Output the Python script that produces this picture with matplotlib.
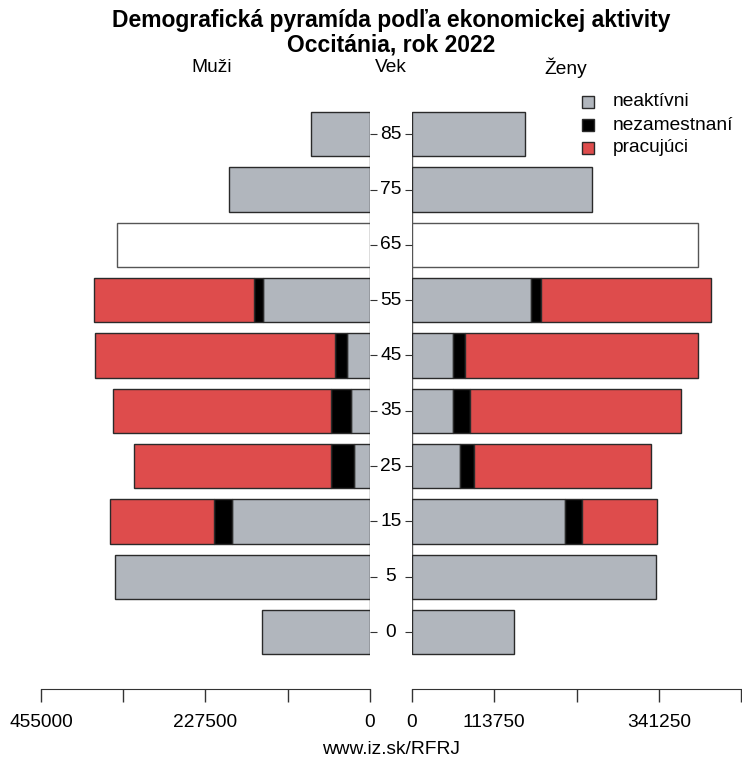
import numpy as np
import matplotlib
matplotlib.use("Agg")
import matplotlib.pyplot as plt
import matplotlib.transforms as mtransforms
from matplotlib.patches import Rectangle

plt.rcParams["font.family"] = ["Liberation Sans", "DejaVu Sans"]

# age groups (bottom to top)
ages = ["0", "5", "15", "25", "35", "45", "55", "65", "75", "85"]

# men
men_neaktivni = [149000, 352200, 190400, 22600, 25800, 32300, 148000, 0, 195000, 81600]
men_nezamestnani = [0, 0, 25300, 31400, 28500, 16100, 12900, 0, 0, 0]
men_pracujuci = [0, 0, 143800, 272000, 301000, 332000, 221000, 0, 0, 0]
men_65 = [0, 0, 0, 0, 0, 0, 0, 350000, 0, 0]

# women
women_neaktivni = [140700, 337000, 211600, 66900, 57200, 57200, 165100, 0, 249000, 156800]
women_nezamestnani = [0, 0, 24100, 19400, 22500, 16600, 12900, 0, 0, 0]
women_pracujuci = [0, 0, 103200, 244300, 291800, 321700, 235100, 0, 0, 0]
women_65 = [0, 0, 0, 0, 0, 0, 0, 395600, 0, 0]

xticks = [0, 113750, 227500, 341250, 455000]
xmax = 455000

series_names = ["neaktívni", "nezamestnaní", "pracujúci"]
colors = ["#B1B6BD", "#000000", "#DE4C4C"]
edge = "#2a2a2a"

W, H = 742, 764
fig = plt.figure(figsize=(W / 100, H / 100), dpi=100)

ax_m = fig.add_axes([41 / W, (H - 689) / H, 329 / W, 599 / H])
ax_f = fig.add_axes([412 / W, (H - 689) / H, 329 / W, 599 / H])

y = np.arange(len(ages))
bh = 0.8


def draw(ax, parts, extra):
    left = np.zeros(len(ages))
    for vals, c in zip(parts, colors):
        vals = np.array(vals, dtype=float)
        m = vals > 0
        ax.barh(y[m], vals[m], left=left[m], height=bh, color=c,
                edgecolor=edge, linewidth=1)
        left += vals
    extra = np.array(extra, dtype=float)
    m = extra > 0
    ax.barh(y[m], extra[m], height=bh, color="white", edgecolor="#555555", linewidth=1)
    ax.vlines(0, -0.4, len(ages) - 0.6, color="#555555", linewidth=1, zorder=0)
    ax.set_ylim(-1.03, 9.80)
    ax.set_yticks(y)
    for s in ["top", "left", "right"]:
        ax.spines[s].set_visible(False)
    ax.spines["bottom"].set_color("#333333")
    ax.set_xticks(xticks)
    ax.tick_params(axis="x", length=9, width=1, color="#333333", pad=9, labelsize=13.8)


draw(ax_m, [men_neaktivni, men_nezamestnani, men_pracujuci], men_65)
draw(ax_f, [women_neaktivni, women_nezamestnani, women_pracujuci], women_65)

ax_m.set_xlim(xmax, 0)
ax_f.set_xlim(0, xmax)
ax_m.set_xticklabels(["0", "", "227500", "", "455000"])
ax_f.set_xticklabels(["0", "113750", "", "341250", ""])

ax_m.tick_params(axis="y", left=False, right=True, labelleft=False, length=5, color="#333333")
ax_f.tick_params(axis="y", left=True, right=False, labelleft=False, length=5, color="#333333")

# age labels between panels
tr = mtransforms.blended_transform_factory(fig.transFigure, ax_m.transData)
for yi, a in zip(y, ages):
    fig.text(391 / W, yi, a, transform=tr, ha="center", va="center", fontsize=13.8)

# titles
fig.text(391 / W, 1 - 21 / H, "Demografická pyramída podľa ekonomickej aktivity",
         ha="center", va="center", fontsize=16.5, fontweight="bold")
fig.text(391 / W, 1 - 45 / H, "Occitánia, rok 2022",
         ha="center", va="center", fontsize=16.5, fontweight="bold")
fig.text(212 / W, 1 - 68 / H, "Muži", ha="center", va="center", fontsize=13.8)
fig.text(391 / W, 1 - 68 / H, "Vek", ha="center", va="center", fontsize=13.8)
fig.text(566 / W, 1 - 68 / H, "Ženy", ha="center", va="center", fontsize=13.8)
fig.text(391 / W, 1 - 750 / H, "www.iz.sk/RFRJ", ha="center", va="center", fontsize=13.8)

# legend
for i, (name, c) in enumerate(zip(series_names, colors)):
    yc = 102 + i * 23
    fig.add_artist(Rectangle((582 / W, 1 - (yc + 6) / H), 12 / W, 12 / H,
                             transform=fig.transFigure, facecolor=c,
                             edgecolor=edge, linewidth=1))
    fig.text(613 / W, 1 - yc / H, name, ha="left", va="center", fontsize=13.8)

fig.savefig("out.png", dpi=100)
